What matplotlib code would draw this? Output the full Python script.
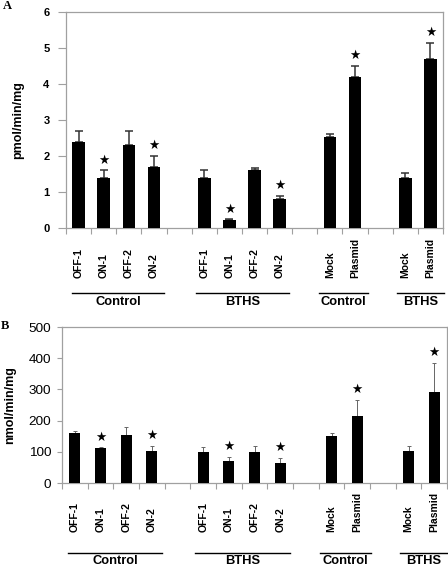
import matplotlib
matplotlib.use("Agg")
import matplotlib.pyplot as plt
from matplotlib import transforms
from matplotlib.lines import Line2D

plt.rcParams['font.family'] = ['Liberation Sans', 'DejaVu Sans']

# slots on the category axis (gaps between groups)
slots = [0, 1, 2, 3, 5, 6, 7, 8, 10, 11, 13, 14]
labels = ['OFF-1', 'ON-1', 'OFF-2', 'ON-2',
          'OFF-1', 'ON-1', 'OFF-2', 'ON-2',
          'Mock', 'Plasmid', 'Mock', 'Plasmid']
groups = ['Control', 'BTHS', 'Control', 'BTHS']
group_lines = [(-0.25, 3.4), (4.68, 8.37), (9.57, 11.52), (12.65, 14.55)]
sig = [0, 1, 0, 1, 0, 1, 0, 1, 0, 1, 0, 1]

# panel A: pmol/min/mg
vals_a = [2.4, 1.4, 2.3, 1.7, 1.4, 0.22, 1.6, 0.8, 2.52, 4.2, 1.39, 4.7]
err_a = [0.3, 0.2, 0.4, 0.3, 0.2, 0.02, 0.07, 0.1, 0.09, 0.3, 0.13, 0.43]

# panel B: nmol/min/mg
vals_b = [160, 113, 154, 103, 100, 72, 98, 63, 150, 216, 103, 292]
err_b = [8, 1, 25, 15, 15, 12, 20, 16, 9, 49, 14, 93]

W, H = 448, 566
fig = plt.figure(figsize=(W / 100, H / 100), dpi=100)


def fx(px):
    return px / W


def fy(py):
    return 1 - py / H


def panel(box, vals, errs, ylim, yticks, ylabel, tickfont, barw, ecol, elw, cap,
          ticklen, lab_bottom, line_y, grp_base, ylab_x, letter, letter_xy, tickpad):
    l, t, r, b = box
    ax = fig.add_axes([fx(l), fy(b), fx(r) - fx(l), fy(t) - fy(b)])
    ax.bar(slots, vals, width=barw, color='black', zorder=3)
    ax.errorbar(slots, vals, yerr=[[0] * len(errs), errs], fmt='none',
                ecolor=ecol, elinewidth=elw, capsize=cap, capthick=elw, zorder=2)
    for s, v, e, f in zip(slots, vals, errs, sig):
        if f:
            ax.annotate('★', (s, v + e), xytext=(0, 7.5), textcoords='offset points',
                        ha='center', va='center', fontsize=9,
                        family=['DejaVu Sans'])
    ax.set_xlim(-0.5, 14.5)
    ax.set_ylim(*ylim)
    ax.set_yticks(yticks)
    ax.set_yticklabels([str(v) for v in yticks], **tickfont)
    ax.set_xticks([])
    ax.set_xticks([i - 0.5 for i in range(16)], minor=True)
    ax.tick_params(axis='y', length=ticklen, width=0.8, color='#a0a0a0', pad=tickpad)
    ax.tick_params(axis='x', which='minor', length=4, width=0.8, color='#a0a0a0')
    for sp in ax.spines.values():
        sp.set_color('#a0a0a0')
        sp.set_linewidth(0.9)
    ax.set_ylabel(ylabel, fontsize=9, fontweight='bold')
    ax.yaxis.set_label_coords(fx(ylab_x), 0.5,
                              transform=transforms.blended_transform_factory(
                                  fig.transFigure, ax.transAxes))
    ax.yaxis.label.set_va('center')

    tr = transforms.blended_transform_factory(ax.transData, fig.transFigure)
    for s, lab in zip(slots, labels):
        ax.text(s, fy(lab_bottom), lab, transform=tr, rotation=90, ha='center',
                va='bottom', fontsize=7.5, fontweight='bold')
    for (a, z), g in zip(group_lines, groups):
        ax.add_line(Line2D([a, z], [fy(line_y)] * 2,
                           transform=tr, color='black', lw=1.0, clip_on=False))
        ax.text(0.5 * (a + z), fy(grp_base), g, transform=tr, ha='center',
                va='baseline', fontsize=9.3, fontweight='bold')
    fig.text(fx(letter_xy[0]), fy(letter_xy[1]), letter, ha='center', va='center',
             fontsize=9, fontweight='bold', family=['Liberation Serif'])
    return ax


panel((66, 12, 443, 228), vals_a, err_a, (0, 6), [0, 1, 2, 3, 4, 5, 6], 'pmol/min/mg',
      dict(fontsize=8, fontweight='bold'), 0.5, '#333333', 1.1, 2.6,
      5.8, 278, 292.7, 305, 18, 'A', (7, 6), 6.0)

panel((62, 327, 447, 483), vals_b, err_b, (0, 500), [0, 100, 200, 300, 400, 500],
      'nmol/min/mg', dict(fontsize=9.7), 0.43, '#666666', 0.7, 1.3,
      3.6, 532, 552.7, 564.3, 10, 'B', (5, 326), 4.3)

fig.savefig('out.png', dpi=100)
